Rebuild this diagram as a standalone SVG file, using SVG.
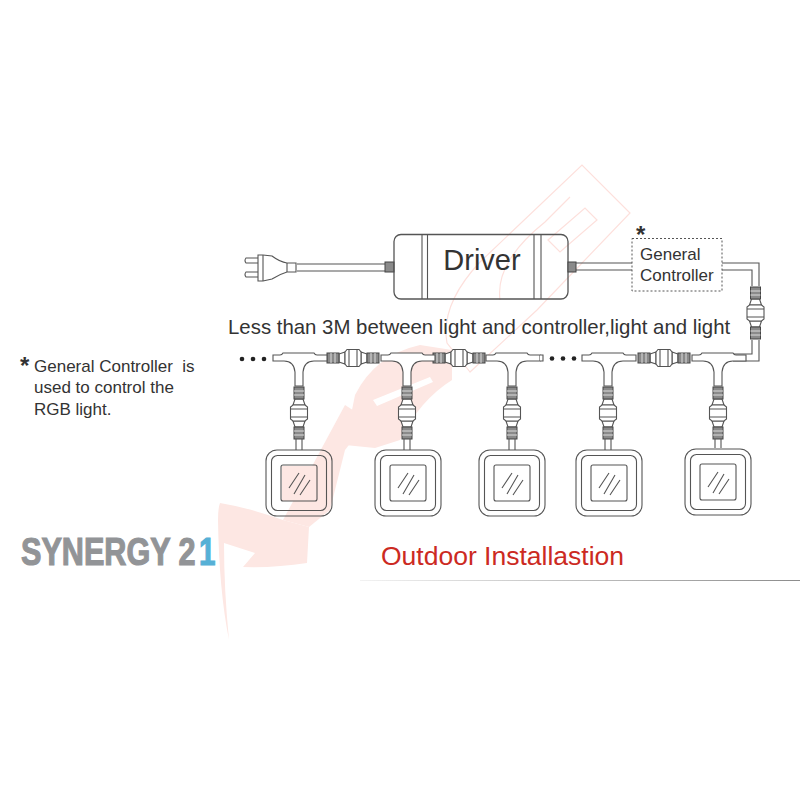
<svg xmlns="http://www.w3.org/2000/svg" xmlns:xlink="http://www.w3.org/1999/xlink" width="800" height="800" viewBox="0 0 800 800">
<style>
text{font-family:"Liberation Sans",Arial,sans-serif;fill:#333}
.l{fill:#fff;stroke:#555;stroke-width:1.1}
.n{fill:none;stroke:#555;stroke-width:1.1}
.r{fill:#8a8a8a;stroke:#444;stroke-width:1}
.w{fill:#fde7e3;stroke:none}
.wl{fill:none;stroke:#fde0dc;stroke-width:1.2}
</style>
<defs>
<linearGradient id="rule" gradientUnits="userSpaceOnUse" x1="360" y1="0" x2="800" y2="0"><stop offset="0" stop-color="#f2f2f2"/><stop offset="1" stop-color="#8c8c8c"/></linearGradient>
<g id="conn">
<path class="l" d="M-14-4L-8-6V6L-14 4ZM14-4L8-6V6L14 4Z"/>
<rect class="r" x="-26" y="-5" width="12" height="10"/>
<rect class="r" x="14" y="-5" width="12" height="10"/>
<path d="M-22-5V5M-18-5V5M18-5V5M22-5V5" stroke="#ddd" stroke-width="1"/>
<path class="l" d="M-8-6L-6-8.500H6L8-6V6L6 8.500H-6L-8 6Z"/>
<path class="n" d="M-4-8.500V8.500M4-8.500V8.500"/>
</g>
<g id="tee">
<path class="l" d="M-26-3H-19Q-17-3-16-5H15Q16-3 18-3H28V3H15Q5 3 4 14V28H-4V14Q-5 3-15 3H-26Z"/>
</g>
<g id="lamp">
<rect class="n" x="-33" y="-33" width="66" height="66" rx="11"/>
<rect class="n" x="-27.500" y="-27.500" width="55" height="55" rx="6"/>
<rect class="n" x="-18" y="-18" width="36" height="36" rx="2"/>
<path class="n" d="M-10 5L0-10M-5 11L6-8M1 12L11-3"/>
</g>
</defs>
<rect width="800" height="800" fill="#fff"/>
<g id="watermark">
<path class="w" d="M220 503Q250 508 283 520L309 527L307 563Q275 568 243 567L255 553L224 543Q224 590 229 640Q219 590 218 520Q218 508 220 503Z"/>
<path class="w" d="M283 520L345 405L368 420L345 450L330 510L309 527Z"/>
<path class="w" fill-rule="evenodd" d="M345 445L355 395Q375 355 420 345L452 350L452 380Q420 400 400 440L375 448Z M373 400L430 377L433 382L377 406Z"/>
<path class="wl" d="M470 372L447 343Q440 305 480 262L582 165L630 213L537 310ZM500 300Q495 262 545 222L570 197M548 240L585 208L597 220L560 252Z"/>
<rect class="w" x="282" y="466" width="35" height="35"/>
</g>
<g id="connectors">
<path class="n" d="M297 264H386M297 271H386"/>
<path class="n" d="M576 263H632M576 270H632"/>
<path class="n" d="M722 263H759V286M722 270H752V286"/>
<path class="n" d="M759 340V361H733M752 340V354H733"/>
<use xlink:href="#conn" transform="translate(755.500 313) rotate(90)"/>
<use xlink:href="#conn" transform="translate(353 358)"/>
<use xlink:href="#conn" transform="translate(459 358)"/>
<use xlink:href="#conn" transform="translate(664 358)"/>
<use xlink:href="#conn" transform="translate(299 413) rotate(90)"/>
<use xlink:href="#conn" transform="translate(407 413) rotate(90)"/>
<use xlink:href="#conn" transform="translate(512 413) rotate(90)"/>
<use xlink:href="#conn" transform="translate(608 413) rotate(90)"/>
<use xlink:href="#conn" transform="translate(718 413) rotate(90)"/>
<path class="n" d="M296 439V450M302 439V450M404 439V450M410 439V450M509 439V450M515 439V450M605 439V450M611 439V450M715 439V448M721 439V448"/>
</g>
<g id="plug">
<path class="l" d="M246 258H259V263H246Q244 260.500 246 258ZM246 272H259V277H246Q244 274.500 246 272Z"/>
<path class="l" d="M258 255H263L272 256Q280 262 287 263H296V272H287Q280 274 272 279L263 281H258Z"/>
<path class="n" d="M263 255V281M287 263V272"/>
<rect class="r" x="385" y="262" width="9" height="10"/>
</g>
<g id="driver">
<rect x="394" y="234.500" width="174" height="64.500" rx="7" fill="none" stroke="#555" stroke-width="1.300"/>
<path class="n" d="M422 235V299M427.500 235V299M534 235V299M541 235V299"/>
<rect class="r" x="568" y="262" width="8" height="10"/>
<text x="482" y="269.500" text-anchor="middle" font-size="29">Driver</text>
</g>
<g id="controller">
<rect x="632" y="238.500" width="90" height="52.500" fill="none" stroke="#555" stroke-dasharray="2 2"/>
<text x="636" y="243" font-size="24" font-weight="700">*</text>
<text x="640" y="260" font-size="17">General</text>
<text x="640" y="281" font-size="17">Controller</text>
</g>
<text x="228" y="334" font-size="20.400" id="distance">Less than 3M between light and controller,light and light</text>
<g id="dots" fill="#222">
<circle cx="242" cy="359" r="2.300"/><circle cx="253" cy="359" r="2.300"/><circle cx="264" cy="359" r="2.300"/>
<circle cx="552" cy="358.500" r="2.300"/><circle cx="563" cy="358.500" r="2.300"/><circle cx="574" cy="358.500" r="2.300"/>
</g>
<g id="t1"><use xlink:href="#tee" transform="translate(299 358)"/></g>
<g id="t2"><use xlink:href="#tee" transform="translate(407 358)"/></g>
<g id="t3"><use xlink:href="#tee" transform="translate(512 358)"/><path class="l" d="M540 355h3v6h-3z" style="stroke:none"/><path class="n" d="M540 355H543V361H540"/></g>
<g id="t4"><use xlink:href="#tee" transform="translate(608 358)"/></g>
<g id="t5"><use xlink:href="#tee" transform="translate(718 358)"/></g>
<g id="lamp1"><use xlink:href="#lamp" transform="translate(299 483)"/></g>
<g id="lamp2"><use xlink:href="#lamp" transform="translate(408 483)"/></g>
<g id="lamp3"><use xlink:href="#lamp" transform="translate(512 483)"/></g>
<g id="lamp4"><use xlink:href="#lamp" transform="translate(609 483)"/></g>
<g id="lamp5"><use xlink:href="#lamp" transform="translate(718 482)"/></g>
<g id="note">
<text x="20" y="374" font-size="24" font-weight="700">*</text>
<text x="34" y="372" font-size="17" xml:space="preserve">General Controller  is</text>
<text x="34" y="393" font-size="17">used to control the</text>
<text x="34" y="415" font-size="17">RGB light.</text>
</g>
<g id="logo">
<text transform="translate(21 565) scale(.785 1)" font-size="39" font-weight="700" style="fill:#929497;stroke:#929497;stroke-width:1.200">SYNERGY 2</text>
<text transform="translate(199 565) scale(.76 1)" font-size="39" font-weight="700" style="fill:#56b0d6;stroke:#56b0d6;stroke-width:1.200">1</text>
</g>
<text x="381" y="565" font-size="26.500" style="fill:#cc2a22" id="title">Outdoor Installastion</text>
<path d="M360 580.500H800" stroke="url(#rule)" stroke-width="1" fill="none"/>
</svg>
